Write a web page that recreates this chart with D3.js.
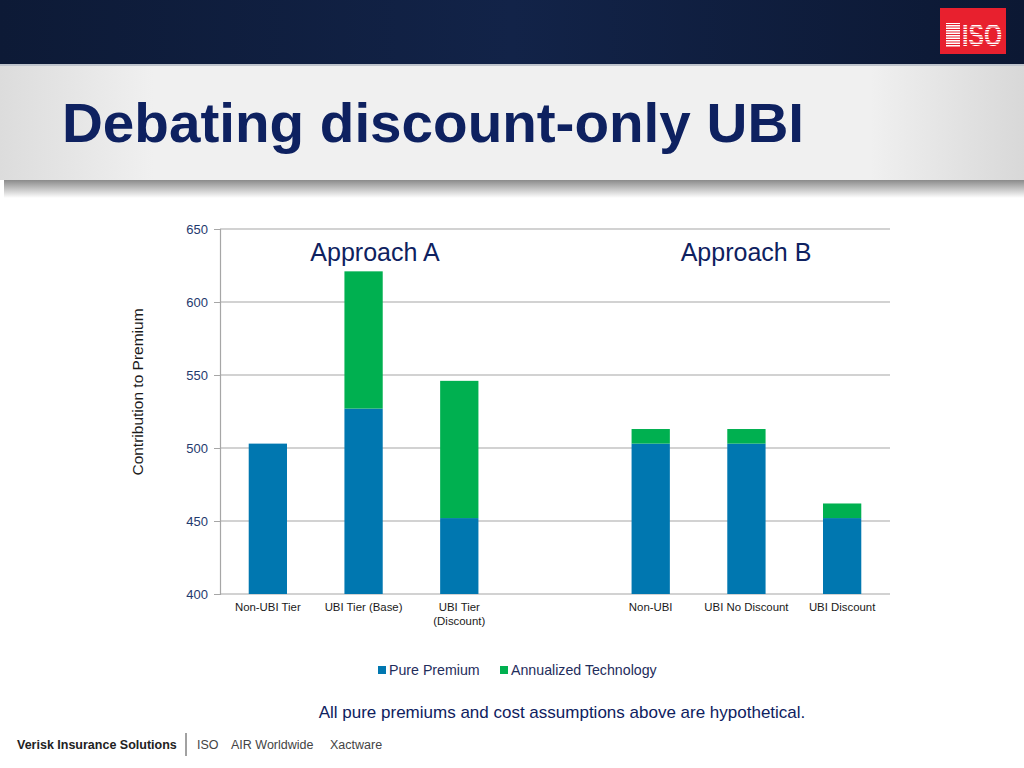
<!DOCTYPE html>
<html>
<head>
<meta charset="utf-8">
<script src="https://cdn.jsdelivr.net/npm/d3@7"></script>
<style>
  body { margin: 0; background: #fff; }
  svg { display: block; font-family: "Liberation Sans", Arial, sans-serif; }
</style>
</head>
<body>
<svg id="slide" width="1024" height="768"></svg>
<script>
// chart data
var categories = ["Non-UBI Tier", "UBI Tier (Base)", "UBI Tier|(Discount)", " ", "Non-UBI", "UBI No Discount", "UBI Discount"];
var purePremium = [503, 527, 452, null, 503, 503, 452];
var annualizedTech = [0, 94, 94, null, 10, 10, 10];
var yTicks = [400, 450, 500, 550, 600, 650];
var seriesNames = ["Pure Premium", "Annualized Technology"];
var seriesColors = ["#0077b0", "#00b050"];

var svg = d3.select("#slide");
var defs = svg.append("defs");

// header band
var hg = defs.append("linearGradient").attr("id", "hdr").attr("x1", 0).attr("x2", 1);
hg.append("stop").attr("offset", "0%").attr("stop-color", "#0d1a36");
hg.append("stop").attr("offset", "50%").attr("stop-color", "#122348");
hg.append("stop").attr("offset", "100%").attr("stop-color", "#0c1833");
svg.append("rect").attr("x", 0).attr("y", 0).attr("width", 1024).attr("height", 64).attr("fill", "url(#hdr)");

// title band
var tg = defs.append("linearGradient").attr("id", "ttl").attr("x1", 0).attr("x2", 1);
tg.append("stop").attr("offset", "0%").attr("stop-color", "#dcdcdc");
tg.append("stop").attr("offset", "15%").attr("stop-color", "#f0f0f0");
tg.append("stop").attr("offset", "85%").attr("stop-color", "#f0f0f0");
tg.append("stop").attr("offset", "100%").attr("stop-color", "#d8d8d8");
var sg = defs.append("linearGradient").attr("id", "shd").attr("x1", 0).attr("x2", 0).attr("y1", 0).attr("y2", 1);
sg.append("stop").attr("offset", "0%").attr("stop-color", "#8a8a8a");
sg.append("stop").attr("offset", "100%").attr("stop-color", "#ffffff");
svg.append("rect").attr("x", 4).attr("y", 180).attr("width", 1020).attr("height", 18).attr("fill", "url(#shd)");
svg.append("rect").attr("x", 0).attr("y", 64).attr("width", 1024).attr("height", 116).attr("fill", "url(#ttl)");
svg.append("rect").attr("x", 0).attr("y", 64).attr("width", 1024).attr("height", 2).attr("fill", "#bfc4cc");

svg.append("text").attr("x", 62).attr("y", 142)
  .attr("font-size", 56).attr("font-weight", "bold").attr("fill", "#0e2160")
  .attr("textLength", 742).attr("lengthAdjust", "spacingAndGlyphs")
  .text("Debating discount-only UBI");

// ISO logo
var logo = svg.append("g").attr("transform", "translate(940,8)");
logo.append("rect").attr("width", 66).attr("height", 46).attr("fill", "#e8202e");
logo.append("rect").attr("x", 6).attr("y", 15).attr("width", 14).attr("height", 24).attr("fill", "#fff");
logo.append("text").attr("x", 22).attr("y", 38)
  .attr("font-size", 32).attr("font-weight", "bold").attr("fill", "#fff")
  .attr("textLength", 40).attr("lengthAdjust", "spacingAndGlyphs")
  .text("ISO");
for (var i = 0; i < 14; i++) {
  logo.append("rect").attr("x", 4).attr("y", 6 + i * 2.5).attr("width", 60).attr("height", 1).attr("fill", "#e8202e");
}

// chart
var margin = { left: 220, right: 890, top: 229, bottom: 594 };
var x = d3.scaleBand().domain(categories).range([margin.left, margin.right]).paddingInner(0.6).paddingOuter(0.3);
var y = d3.scaleLinear().domain([400, 650]).range([margin.bottom, margin.top]);

svg.append("g").selectAll("line").data(yTicks).join("line")
  .attr("x1", margin.left).attr("x2", margin.right)
  .attr("y1", function(d) { return y(d); }).attr("y2", function(d) { return y(d); })
  .attr("stroke", "#a6a6a6").attr("stroke-width", 1.2);

var yAxis = svg.append("g").attr("transform", "translate(" + margin.left + ",0)")
  .call(d3.axisLeft(y).tickValues(yTicks).tickSize(6).tickPadding(6));
yAxis.select(".domain").attr("stroke", "#a6a6a6").attr("stroke-width", 1.2);
yAxis.selectAll(".tick line").attr("stroke", "#a6a6a6");
yAxis.selectAll("text").attr("font-size", 13).attr("fill", "#1f3a6e")
  .attr("font-family", "'Liberation Sans', Arial, sans-serif");

var stackData = categories.map(function(c, i) {
  return { cat: c, pure: purePremium[i], tech: annualizedTech[i] };
}).filter(function(d) { return d.pure != null; });

var bars = svg.append("g");
bars.selectAll(".pure").data(stackData).join("rect").attr("class", "pure")
  .attr("x", function(d) { return x(d.cat); }).attr("width", x.bandwidth())
  .attr("y", function(d) { return y(d.pure); })
  .attr("height", function(d) { return y(400) - y(d.pure); })
  .attr("fill", seriesColors[0]);
bars.selectAll(".tech").data(stackData.filter(function(d) { return d.tech > 0; })).join("rect").attr("class", "tech")
  .attr("x", function(d) { return x(d.cat); }).attr("width", x.bandwidth())
  .attr("y", function(d) { return y(d.pure + d.tech); })
  .attr("height", function(d) { return y(d.pure) - y(d.pure + d.tech); })
  .attr("fill", seriesColors[1]);

// category labels
var xl = svg.append("g");
categories.forEach(function(c) {
  var lines = c.split("|");
  var t = xl.append("text").attr("text-anchor", "middle")
    .attr("x", x(c) + x.bandwidth() / 2).attr("y", 611)
    .attr("font-size", 11.4).attr("fill", "#1a1a1a");
  lines.forEach(function(l, k) {
    t.append("tspan").attr("x", x(c) + x.bandwidth() / 2).attr("dy", k === 0 ? 0 : 13.5).text(l.trim());
  });
});

// axis title
svg.append("text").attr("transform", "translate(143,392) rotate(-90)")
  .attr("text-anchor", "middle").attr("font-size", 15.5).attr("fill", "#1a1a1a")
  .text("Contribution to Premium");

// approach labels
svg.append("text").attr("x", 375).attr("y", 261).attr("text-anchor", "middle")
  .attr("font-size", 25).attr("fill", "#0e2160").text("Approach A");
svg.append("text").attr("x", 746).attr("y", 261).attr("text-anchor", "middle")
  .attr("font-size", 25).attr("fill", "#0e2160").text("Approach B");

// legend
var legX = [378, 500];
seriesNames.forEach(function(n, i) {
  svg.append("rect").attr("x", legX[i]).attr("y", 666).attr("width", 8).attr("height", 8).attr("fill", seriesColors[i]);
  svg.append("text").attr("x", legX[i] + 11).attr("y", 675).attr("font-size", 14.2).attr("fill", "#1f2d5c").text(n);
});

svg.append("text").attr("x", 562).attr("y", 718).attr("text-anchor", "middle")
  .attr("font-size", 17).attr("fill", "#0e2160")
  .text("All pure premiums and cost assumptions above are hypothetical.");

// footer
svg.append("text").attr("x", 17).attr("y", 749).attr("font-size", 12.5).attr("font-weight", "bold").attr("fill", "#222")
  .text("Verisk Insurance Solutions");
svg.append("line").attr("x1", 186).attr("x2", 186).attr("y1", 733).attr("y2", 756).attr("stroke", "#444").attr("stroke-width", 1);
svg.append("text").attr("x", 197).attr("y", 749).attr("font-size", 12.5).attr("fill", "#444")
  .text("ISO");
svg.append("text").attr("x", 231).attr("y", 749).attr("font-size", 12.5).attr("fill", "#444")
  .text("AIR Worldwide");
svg.append("text").attr("x", 330).attr("y", 749).attr("font-size", 12.5).attr("fill", "#444")
  .text("Xactware");
</script>
</body>
</html>
